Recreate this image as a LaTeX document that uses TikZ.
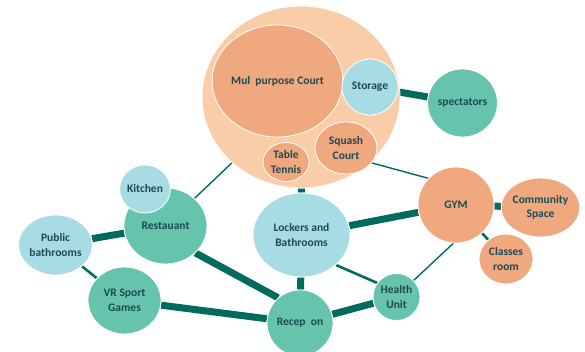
\documentclass[tikz,border=0pt]{standalone}
\usepackage{fontspec}
\setmainfont{Carlito}
\usetikzlibrary{shapes.geometric,backgrounds}
\definecolor{tealfill}{HTML}{66C3AC}
\definecolor{bluefill}{HTML}{A8DCE4}
\definecolor{orangefill}{HTML}{F0A87E}
\definecolor{peachfill}{HTML}{F9CDA8}
\definecolor{linecol}{HTML}{006B5E}
\definecolor{txtcol}{HTML}{1D4A55}
\tikzset{
  room/.style={ellipse, draw=white, line width=0.8pt, inner sep=0pt, align=center,
    font=\fontsize{11.5}{14.5}\selectfont\bfseries, text=txtcol},
  teal/.style={room, fill=tealfill},
  blue/.style={room, fill=bluefill},
  orng/.style={room, fill=orangefill},
  peach/.style={room, fill=peachfill},
  heavy/.style={draw=linecol, line width=7pt},
  medium/.style={draw=linecol, line width=2.6pt},
  light/.style={draw=linecol, line width=1.4pt},
}
\begin{document}
\begin{tikzpicture}[x=1pt,y=-1pt]
\useasboundingbox (0,0) rectangle (585,351);
% outer cluster
\node[peach, minimum width=198pt, minimum height=182pt] (outer) at (301,97) {};
\node[orng, minimum width=129pt, minimum height=112pt] (multi) at (277.5,81) {Mul\ \ purpose Court};
\node[blue, minimum width=56pt, minimum height=56pt] (storage) at (370,87) {Storage};
\node[orng, minimum width=62pt, minimum height=52pt] (squash) at (346,148) {Squash\\Court};
\node[orng, minimum width=46pt, minimum height=39pt] (tennis) at (286,162) {Table\\Tennis};
\node[teal, minimum width=69pt, minimum height=68pt] (spect) at (462.5,103) {spectators};
% left nodes
\node[teal, minimum width=83pt, minimum height=76pt] (rest) at (165.5,226) {Restauant};
\node[blue, minimum width=48pt, minimum height=48pt] (kitchen) at (145,189) {Kitchen};
\node[blue, minimum width=66pt, minimum height=60pt] (pubbath) at (55.5,245) {Public\\bathrooms};
\node[teal, minimum width=73pt, minimum height=67pt] (vr) at (124.5,300.5) {VR Sport\\Games};
\node[teal, minimum width=66pt, minimum height=66pt] (recep) at (300,323) {Recep\ \ on};
\node[blue, minimum width=97pt, minimum height=84pt] (lockers) at (301.5,235) {Lockers and\\Bathrooms};
\node[orng, minimum width=76pt, minimum height=76pt] (gym) at (456,205) {GYM};
\node[orng, minimum width=67pt, minimum height=59pt] (comm) at (540.5,207.5) {Community\\Space};
\node[orng, minimum width=54pt, minimum height=50pt] (classes) at (506,259) {Classes\\room};
\node[teal, minimum width=47pt, minimum height=47pt] (health) at (396.5,297) {Health\\Unit};
\begin{pgfonlayer}{background}
\draw[heavy] (storage) -- (spect);
\draw[heavy] (outer) -- (lockers);
\draw[light] (squash.-30) -- (gym.136);
\draw[light] (rest) -- (outer);
\draw[heavy] (pubbath) -- (rest);
\draw[medium] (pubbath) -- (vr);
\draw[heavy] (rest.-42) -- (recep.131);
\draw[heavy] (vr) -- (recep);
\draw[heavy] (lockers) -- (recep);
\draw[heavy] (lockers) -- (gym);
\draw[medium] (lockers.-41) -- (health.144);
\draw[heavy] (recep) -- (health);
\draw[light] (health.44) -- (gym.-94);
\draw[heavy] (gym) -- (comm);
\draw[medium] (gym) -- (classes);
\end{pgfonlayer}
\end{tikzpicture}
\end{document}
